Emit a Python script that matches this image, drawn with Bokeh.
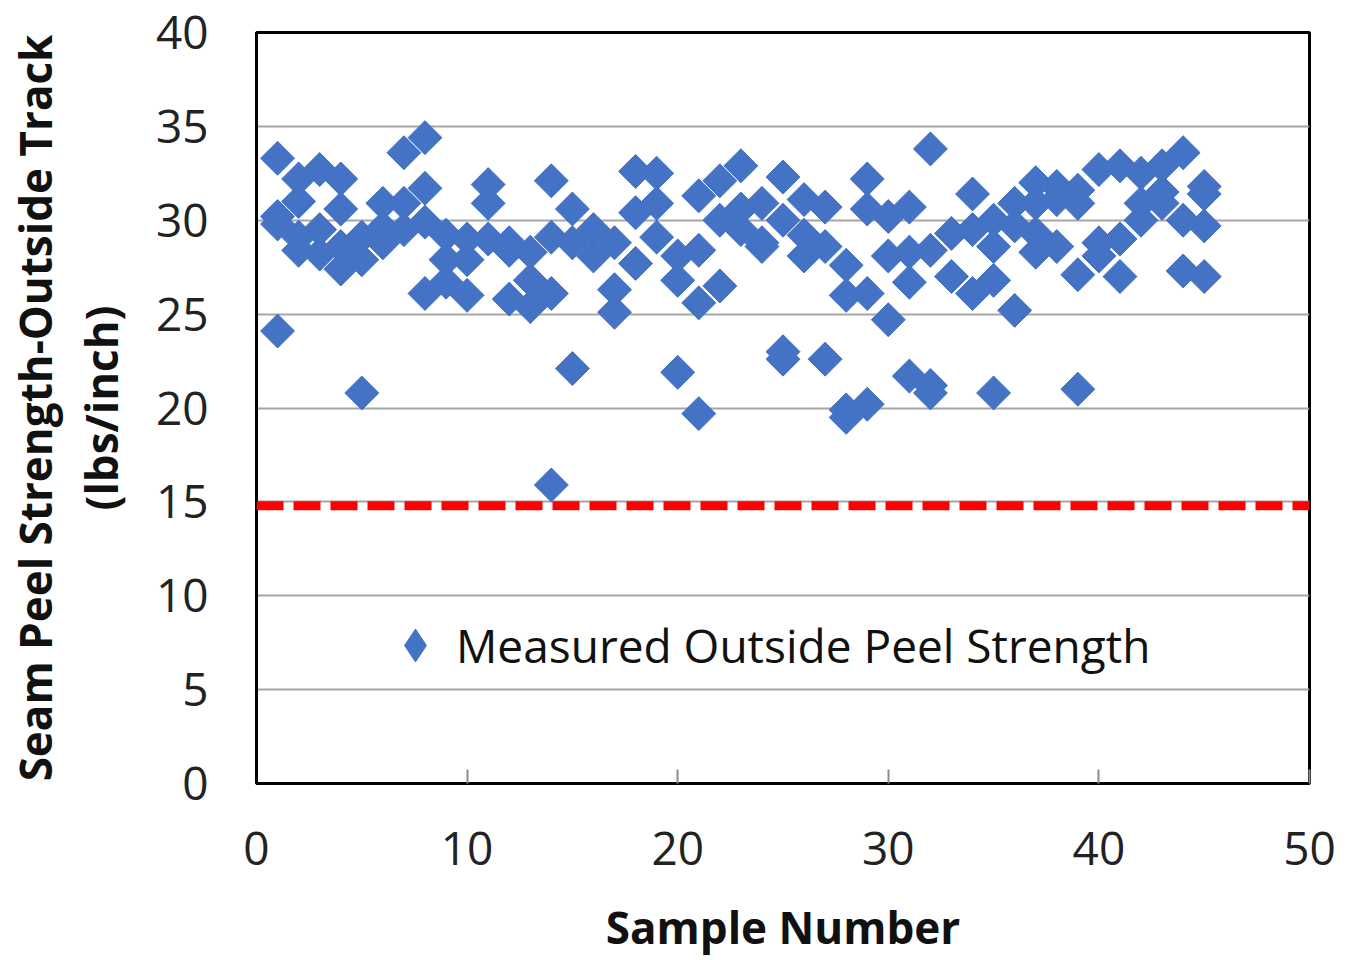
import numpy as np
from bokeh.plotting import figure
from bokeh.models import Span, Legend, LegendItem, FixedTicker, Range1d
from bokeh.embed import file_html
from bokeh.resources import INLINE

# ---- data ----
sample_number = [
    1, 1, 1, 1,
    2, 2, 2, 2,
    3, 3, 3,
    4, 4, 4, 4,
    5, 5, 5,
    6, 6, 6,
    7, 7, 7,
    8, 8, 8, 8,
    9, 9, 9,
    10, 10, 10,
    11, 11, 11,
    12, 12, 12,
    13, 13, 13,
    14, 14, 14, 14,
    15, 15, 15,
    16, 16,
    17, 17, 17,
    18, 18, 18,
    19, 19, 19,
    20, 20, 20,
    21, 21, 21, 21,
    22, 22, 22,
    23, 23, 23,
    24, 24, 24,
    25, 25, 25, 25,
    26, 26, 26,
    27, 27, 27,
    28, 28, 28, 28,
    29, 29, 29, 29,
    30, 30, 30,
    31, 31, 31, 31,
    32, 32, 32, 32,
    33, 33,
    34, 34, 34,
    35, 35, 35, 35,
    36, 36, 36,
    37, 37, 37, 37,
    38, 38, 38,
    39, 39, 39, 39,
    40, 40, 40,
    41, 41, 41,
    42, 42, 42,
    43, 43, 43,
    44, 44, 44,
    45, 45, 45, 45,
]
peel_strength = [
    33.3, 30.2, 29.8, 24.1,
    32.2, 31.0, 29.1, 28.4,
    32.7, 29.5, 28.2,
    32.2, 30.6, 28.6, 27.4,
    29.1, 27.9, 20.8,
    30.9, 28.8, 29.6,
    33.6, 30.9, 29.5,
    34.4, 31.7, 29.9, 26.1,
    29.2, 27.9, 26.7,
    29.0, 27.9, 26.0,
    31.9, 30.9, 29.0,
    28.8, 28.4, 25.8,
    28.3, 26.8, 25.4,
    32.1, 29.1, 26.1, 15.9,
    30.6, 28.8, 22.1,
    29.5, 28.1,
    28.8, 26.3, 25.1,
    32.6, 30.4, 27.7,
    32.5, 30.9, 29.1,
    28.1, 26.8, 21.9,
    31.3, 28.4, 25.6, 19.7,
    32.1, 30.0, 26.5,
    32.9, 30.6, 29.5,
    30.9, 28.8, 28.6,
    32.3, 30.0, 23.0, 22.6,
    31.1, 29.2, 28.1,
    30.7, 28.6, 22.6,
    27.6, 26.0, 19.9, 19.5,
    32.2, 30.6, 26.1, 20.2,
    30.2, 28.1, 24.7,
    30.7, 28.3, 26.7, 21.7,
    33.8, 28.4, 21.2, 20.8,
    29.3, 27.0,
    31.4, 29.5, 26.1,
    30.0, 28.6, 26.8, 20.8,
    30.9, 29.7, 25.2,
    32.0, 30.9, 29.3, 28.3,
    31.8, 31.1, 28.6,
    31.6, 30.9, 27.1, 21.0,
    32.7, 28.8, 28.1,
    32.9, 29.0, 27.0,
    32.5, 30.9, 30.0,
    32.9, 31.5, 30.9,
    33.6, 30.0, 27.3,
    31.8, 31.4, 29.7, 27.0,
]
minimum_strength = 14.8
x_ticks = [0, 10, 20, 30, 40, 50]
y_ticks = [0, 5, 10, 15, 20, 25, 30, 35, 40]
legend_label = "Measured Outside Peel Strength"
x_title = "Sample Number"
y_title = "Seam Peel Strength-Outside Track\n(lbs/inch)"

BLUE = "#4472C4"

p = figure(width=1349, height=960, output_backend="svg", toolbar_location=None,
           x_range=Range1d(0, 50), y_range=Range1d(0, 40),
           min_border_left=256, min_border_right=40,
           min_border_top=32, min_border_bottom=177)

p.background_fill_color = "white"
p.border_fill_color = "white"
p.outline_line_color = "black"
p.outline_line_width = 3

# grid
p.xgrid.visible = False
p.ygrid.ticker = FixedTicker(ticks=y_ticks[1:-1])
p.ygrid.grid_line_color = "#a6a6a6"
p.ygrid.grid_line_width = 2

# threshold line
p.add_layout(Span(location=minimum_strength, dimension="width",
                  line_color="#ff0000", line_width=9, line_dash="27 10"))

# tall diamonds (used for the legend swatch) sit hidden inside the rotated squares
r_leg = p.scatter(sample_number, peel_strength, marker="diamond", size=33,
                  fill_color=BLUE, line_color=BLUE)
p.scatter(sample_number, peel_strength, marker="square", angle=np.pi / 4,
          size=24, fill_color=BLUE, line_color=BLUE, line_width=1)

# axes
p.xaxis.ticker = FixedTicker(ticks=x_ticks)
p.yaxis.ticker = FixedTicker(ticks=y_ticks)
for ax in (p.xaxis[0], p.yaxis[0]):
    ax.axis_line_color = "black"
    ax.axis_line_width = 3
    ax.major_label_text_font = "Open Sans"
    ax.major_label_text_font_size = "46px"
    ax.major_label_text_color = "#222222"
    ax.minor_tick_line_color = None
    ax.axis_label_text_font = "Open Sans"
    ax.axis_label_text_font_style = "bold"
    ax.axis_label_text_color = "#111111"

p.xaxis.major_tick_in = 14
p.xaxis.major_tick_out = 0
p.xaxis.major_tick_line_color = "#8c8c8c"
p.xaxis.major_tick_line_width = 2
p.xaxis.major_label_standoff = 48
p.xaxis.axis_label = x_title
p.xaxis.axis_label_text_font_size = "44px"
p.xaxis.axis_label_standoff = 29

p.yaxis.major_tick_in = 0
p.yaxis.major_tick_out = 0
p.yaxis.major_label_standoff = 48
p.yaxis.axis_label = y_title
p.yaxis.axis_label_text_font_size = "44px"
p.yaxis.axis_label_text_line_height = 1.1
p.yaxis.axis_label_standoff = 22

legend = Legend(items=[LegendItem(label=legend_label, renderers=[r_leg])],
                location=(118, 96), orientation="vertical",
                label_text_font="Open Sans", label_text_font_size="46px",
                label_text_color="#111111",
                glyph_width=82, glyph_height=84, label_standoff=0,
                padding=0, margin=0, spacing=0,
                border_line_alpha=0, background_fill_alpha=0)
p.add_layout(legend)

open("out.html", "w").write(file_html(p, INLINE))
